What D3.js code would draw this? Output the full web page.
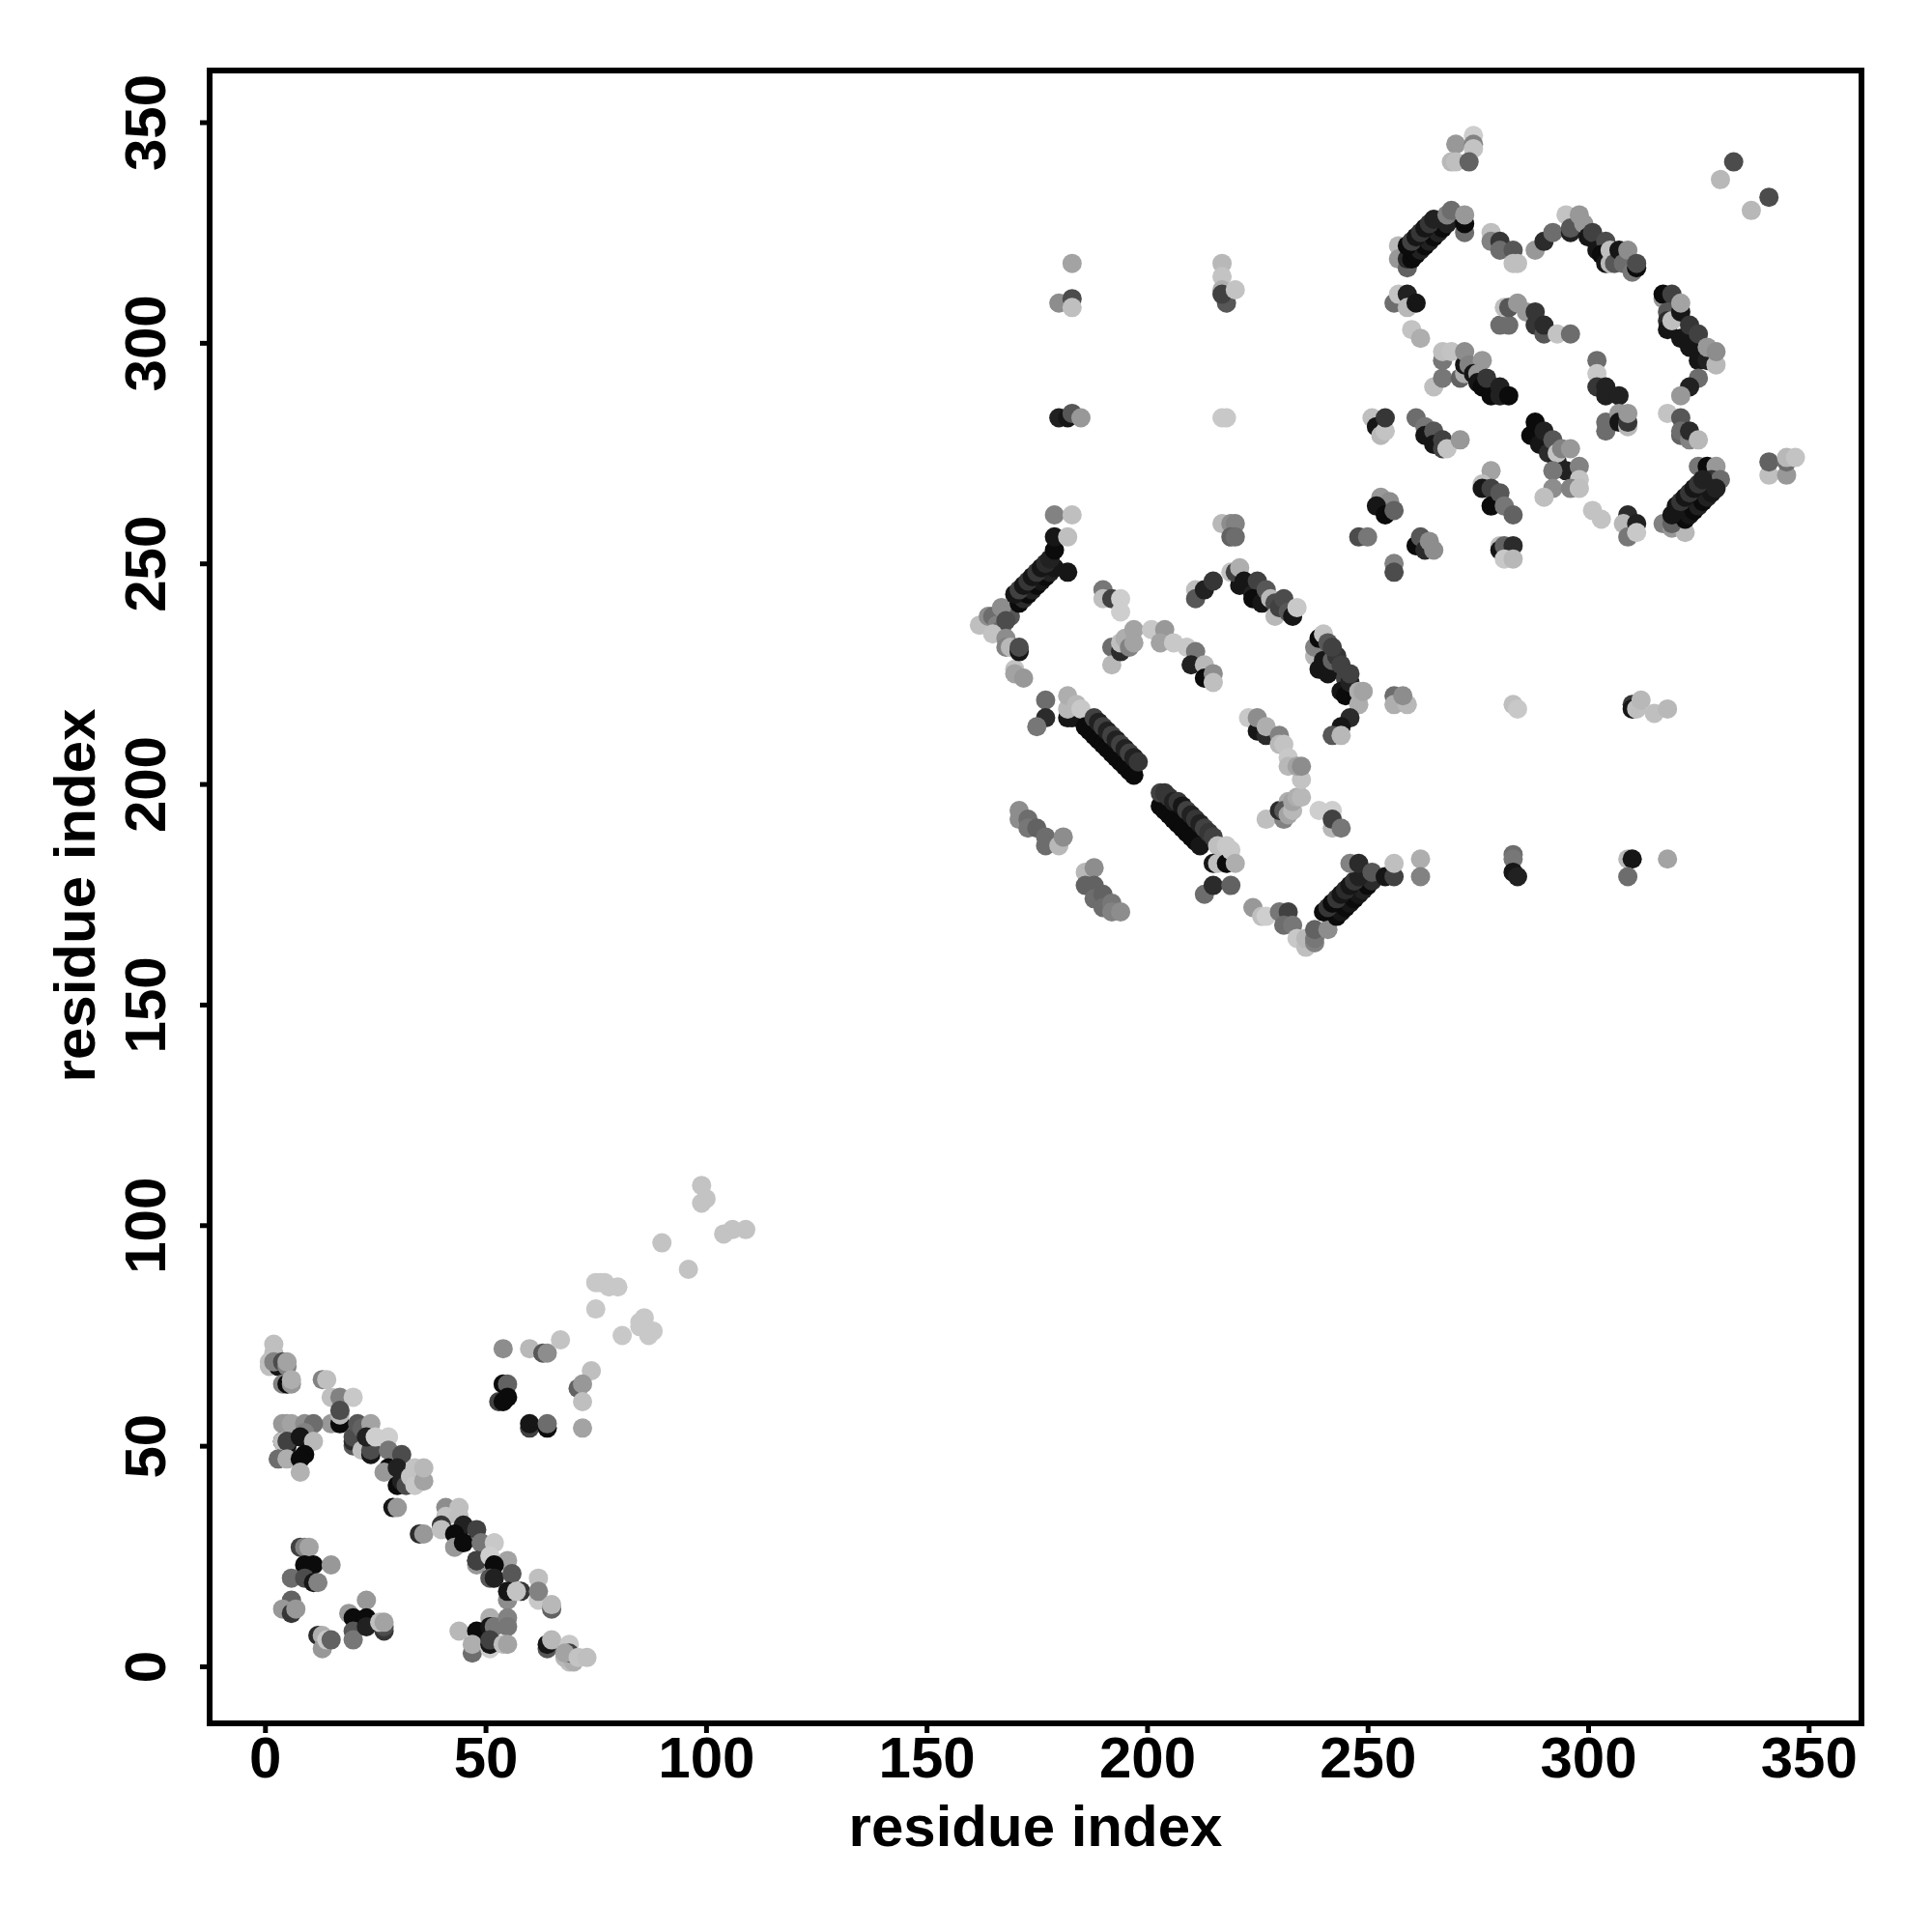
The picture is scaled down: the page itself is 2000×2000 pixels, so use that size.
<!DOCTYPE html>
<html><head><meta charset="utf-8"><script src="https://cdn.jsdelivr.net/npm/d3@7"></script>
<style>html,body{margin:0;background:#fff}svg{display:block}</style></head><body>
<svg id="c" width="2000" height="2000"></svg>
<script>
// each contact: [residue x, residue y, contact strength 0-100]
const domainA = [
[2,70,12],[1,69,12],[1,68,12],[2,73,12],[2,71,12],[3,68,90],[2,69,40],[4,69,65],[5,68,40],[5,69,25],[4,64,40],[5,64,95],[6,64,30],[6,65,20],
[13,65,40],[14,65,12],[15,61,12],[17,61,40],[20,61,8],[15,55,30],[17,55,95],[17,57,15],[17,58,65],[20,50,60],[20,51,80],[20,52,65],[21,55,60],[22,54,55],[24,55,25],
[22,49,12],[24,48,90],[24,49,65],[23,52,85],[25,52,5],[28,52,5],[28,49,45],[31,48,65],[28,45,95],[27,44,30],[30,45,85],[30,41,95],[31,42,85],[32,41,65],[33,43,10],[34,41,8],[34,45,10],[36,42,25],[36,45,15],
[29,36,90],[30,36,30],[35,30,80],[36,30,30],
[4,55,30],[5,55,30],[6,55,25],[9,55,35],[11,55,50],[4,51,95],[5,50,90],[4,51,12],[5,51,70],[9,53,40],[8,52,90],[11,51,15],[3,47,50],[5,47,20],[9,48,95],[8,47,95],[8,44,18],
[8,27,70],[9,27,40],[10,27,25],[9,23,95],[11,23,95],[15,23,30],[6,20,50],[9,20,65],[11,19,90],[12,19,40],[6,15,55],[4,13,30],[6,12,75],[7,13,30],
[12,7,80],[13,7,20],[13,4,30],[14,6,8],[15,6,55],[19,12,30],[20,11,95],[20,8,60],[20,6,45],[23,15,30],[23,11,95],[23,9,85],[27,8,75],[27,9,65],[26,10,12],[27,10,25],
[41,36,35],[44,36,12],[41,34,10],[40,32,75],[40,31,12],[44,34,12],[45,32,85],[48,31,70],[43,30,95],[43,27,30],[45,28,95],[49,28,45],[52,28,8],[48,23,30],[48,24,90],[48,24,70],[51,25,5],[55,24,25],[52,23,95],[51,20,60],[52,20,85],[56,21,60],[55,15,35],[55,17,90],[58,17,75],[57,17,10],[62,20,12],[62,15,8],[62,17,40],[65,13,55],[65,14,15],
[44,8,15],[48,8,95],[51,11,20],[51,9,90],[52,9,45],[55,11,40],[55,9,45],[47,3,50],[47,5,20],[51,4,5],[51,5,90],[51,6,70],[54,5,12],[55,5,25],
[64,4,60],[64,5,90],[65,6,15],[69,5,8],[69,1,12],[68,2,15],[70,1,20],[69,3,70],[68,3,25],[71,2,10],[73,2,12]
];
const domainAOff = [
[54,72,35],[60,72,15],[63,71,60],[64,71,35],[67,74,10],[54,64,95],[55,64,55],[53,60,70],[54,60,95],[55,61,95],[60,54,70],[60,55,90],[64,54,95],[64,55,50],[74,67,12],[71,63,55],[72,64,30],[72,60,12],[72,54,25]
];
const linker = [
[75,87,8],[76,87,8],[77,87,8],[78,86,8],[80,86,8],[75,81,8],[81,75,8],[86,79,8],[85,78,8],[85,77,8],[87,76,8],[88,76,8],[87,75,8],[90,96,10],[96,90,10],[99,109,10],[99,105,10],[100,106,10],[104,98,10],[106,99,10],[109,99,10]
];
const domainB = [
[162,236,12],[164,238,35],[165,238,50],[166,236,40],[167,235,50],[169,238,60],[167,240,35],[168,237,65],[165,234,10],[168,233,35],[170,226,10],[170,225,25],[172,224,30],[168,231,40],[169,231,15],[171,230,90],[171,231,65],
[171,241,95],[172,242,80],[173,243,95],[174,244,85],[175,245,95],[176,246,90],[177,247,95],[178,248,85],[179,249,90],
[170,243,90],[171,244,70],[172,245,90],[173,246,75],[174,247,90],[175,248,75],[176,249,90],[177,250,80],[178,251,85],
[179,253,95],[179,256,90],[179,261,40],[183,261,12],[182,256,12],[182,248,90],
[190,244,45],[190,242,12],[192,242,70],[194,242,5],[194,239,5],
[192,231,50],[192,227,15],[194,230,80],[194,232,12],[195,233,20],[196,231,40],[197,235,25],[197,232,25],
[201,235,8],[204,235,30],[203,232,25],[206,232,8],[209,231,8],[211,230,45],[210,227,85],[213,227,15],[213,224,95],[215,225,35],[215,223,12],
[177,219,50],[177,215,80],[175,213,45],[182,215,90],[183,215,90],[182,217,15],[182,220,20],[184,218,15],[185,217,8],
[186,213,95],[187,212,95],[188,211,95],[189,210,95],[190,209,95],[191,208,95],[192,207,95],[193,206,95],[194,205,95],[195,204,95],[196,203,95],[197,202,95],
[188,215,70],[189,214,85],[190,213,70],[191,212,85],[192,211,70],[193,210,85],[194,209,70],[195,208,85],[196,207,70],[197,206,85],[198,205,75],
[203,195,95],[204,194,95],[205,193,95],[206,192,95],[207,191,95],[208,190,95],[209,189,95],[210,188,95],[211,187,95],[212,186,90],
[203,198,70],[204,198,75],[205,197,75],[206,196,85],[207,196,75],[208,195,90],[209,194,70],[210,193,85],[211,192,75],[212,191,85],[213,190,70],[214,189,75],[215,188,70],
[216,186,12],[218,186,8],[215,182,90],[216,182,12],[218,182,95],[219,185,8],[220,182,20],[213,175,50],[215,177,80],[219,177,55],
[171,194,35],[171,192,35],[173,192,50],[173,190,45],[175,190,55],[177,188,50],[177,186,50],[180,186,15],[181,188,35],
[186,180,15],[188,181,35],[186,177,55],[188,177,55],[188,174,50],[190,175,55],[190,172,50],[192,173,45],[192,171,40],[194,171,35],
[211,244,12],[211,242,60],[213,244,85],[215,246,75],[219,248,10],[221,245,90],[220,248,70],[221,249,20],[222,246,90],[224,243,85],[225,246,70],[224,242,95],[226,241,90],[227,244,60],[228,242,15],[229,241,65],[229,238,15],[230,240,70],[231,242,65],[232,239,60],[233,238,90],[234,240,8],
[238,229,15],[238,231,40],[239,233,95],[240,234,10],[240,228,90],[239,226,90],[241,225,90],[242,228,55],[241,232,60],[243,229,75],[242,231,70],[244,227,70],[245,224,70],[244,221,90],[245,220,95],[246,223,85],[246,225,70],[248,218,20],[248,221,20],[249,221,25],[246,215,80],[244,213,90],[242,211,60],[244,211,15],
[256,220,50],[256,218,20],[259,218,15],[258,220,35],
[227,192,12],[231,192,40],[230,194,80],[232,196,20],[231,194,60],[232,193,25],[233,194,15],[233,196,25],[234,197,20],[235,197,15],
[223,215,8],[225,212,90],[225,215,35],[227,211,80],[227,213,20],[230,211,40],[230,209,15],[231,209,10],[232,206,8],[232,204,15],[235,201,10],[234,204,25],[235,204,35],
[239,194,5],[242,194,5],[242,190,15],[242,192,70],[244,190,45],
[224,172,30],[226,170,12],[227,170,5],[230,171,45],[232,171,70],[231,168,50],[233,168,45],[234,165,8],[236,163,12],[236,165,15],[238,164,40],[238,165,45],[238,167,55],[241,167,35],
[243,170,95],[244,171,90],[245,172,95],[246,173,90],[247,174,95],[248,175,90],[249,176,85],[250,177,95],[251,178,80],
[240,171,95],[241,172,75],[242,173,95],[243,174,75],[244,175,90],[245,176,80],[246,177,90],[247,178,75],[248,179,85],
[246,182,40],[248,182,80],[251,180,60],[254,179,90],[256,179,70],[256,182,12]
];
const interdomain = [
[262,183,20],[262,179,40],[283,184,50],[283,183,45],[283,180,90],[284,179,85],[309,183,15],[310,183,90],[309,179,50],[318,183,25],
[283,218,12],[284,217,8],[310,218,75],[310,217,90],[311,217,12],[312,219,15],[315,216,12],[318,217,15],
[180,309,35],[183,318,25],[183,310,65],[183,308,12],[180,283,85],[182,283,90],[183,284,60],[185,283,30],
[217,318,15],[217,315,10],[217,312,20],[218,309,60],[217,311,70],[220,312,10],[217,283,8],[218,283,8],
[217,259,15],[219,259,35],[220,259,40],[219,256,55],[220,256,50]
];
const domainC = [
[270,345,30],[274,347,5],[274,345,40],[274,344,10],[269,341,15],[270,341,12],[273,341,55],
[333,341,65],[330,337,15],[341,333,65],[337,330,15],
[257,322,15],[257,319,30],[259,317,55],[259,319,80],[260,319,95],[261,320,95],[262,321,85],[263,322,95],[264,323,85],[265,324,95],[266,325,85],[267,326,95],[268,327,85],
[259,322,95],[260,323,70],[261,324,90],[262,325,75],[263,326,90],[264,327,75],[265,328,85],[268,329,40],[269,330,50],[272,325,50],[272,327,95],[272,329,30],
[278,325,12],[278,323,40],[280,323,75],[280,321,50],[283,321,60],[283,318,12],[284,318,12],
[288,321,30],[290,323,80],[292,325,50],[295,329,10],[296,325,85],[296,326,60],[298,329,30],[299,327,30],[300,324,90],[301,325,70],[302,321,90],[304,323,65],[303,320,95],[304,318,90],[305,318,15],[305,321,12],[306,318,60],[307,321,90],[308,318,50],[309,321,35],[310,316,45],[311,317,95],[311,318,65],
[256,309,50],[257,311,10],[259,311,85],[259,308,15],[261,309,90],[260,303,10],[262,301,20],
[280,304,50],[282,304,50],[281,308,12],[282,308,60],[284,309,30],[286,307,30],[288,304,75],[288,307,75],[290,302,60],[290,304,80],[293,302,10],[296,302,50],
[302,296,50],[302,293,8],[302,290,75],[304,288,85],[304,290,85],[307,288,85],[304,280,50],[304,282,50],[307,284,30],[307,282,90],[309,281,15],[309,282,75],[309,284,30],
[318,284,10],[321,279,55],[321,283,60],[321,280,50],[323,278,40],[323,280,80],[325,278,15],
[317,310,30],[317,311,95],[319,311,70],[318,307,60],[318,305,80],[318,303,90],[319,305,12],[321,307,90],[321,301,90],[321,309,25],[323,299,90],[323,304,75],[325,296,90],[325,302,70],[327,296,85],[329,295,15],[327,299,30],[329,298,35],
[325,292,50],[323,290,85],[321,288,30],
[325,272,45],[327,272,95],[329,272,30],[328,269,75],[330,269,50],
[317,259,40],[319,258,30],[322,257,15],[319,259,55],
[322,260,95],[323,261,90],[324,262,95],[325,263,85],[326,264,95],[327,265,85],[328,266,90],[329,267,85],
[319,261,90],[320,263,90],[321,264,75],[322,265,90],[323,266,75],[324,267,90],[325,268,75],[326,269,85],
[341,270,12],[345,270,30],[341,273,55],[345,273,50],[345,274,15],[347,274,10],
[265,290,12],[267,292,45],[267,296,45],[267,298,12],[269,298,10],[271,292,55],[272,293,20],[272,295,90],[272,298,35],[273,295,40],[276,296,30],[274,293,90],[275,293,30],[275,291,90],[276,290,95],[278,288,95],[277,292,75],[280,290,85],[280,288,85],[282,288,95],
[287,279,95],[288,282,95],[289,277,90],[290,280,85],[291,275,80],[292,278,60],[293,273,85],[293,275,10],[295,271,85],[294,276,40],[296,276,30],[298,272,40],[298,269,10],[292,271,45],[292,267,35],[290,265,12],[296,267,40],[298,267,12],[301,262,10],[303,260,10],
[309,261,80],[308,259,15],[311,259,85],[309,256,45],[311,257,8],
[278,271,25],[276,268,12],[276,267,90],[278,267,70],[278,263,95],[280,266,60],[281,263,45],[283,261,55],
[251,283,12],[252,281,90],[253,279,15],[254,280,10],[254,283,75],
[261,283,50],[263,281,45],[263,279,90],[265,280,60],[265,277,90],[267,278,70],[267,276,70],[268,276,10],[271,278,30],
[253,265,30],[255,264,35],[252,263,90],[254,261,95],[256,262,55],[248,256,65],[250,256,45],
[261,254,95],[262,256,60],[263,253,80],[264,255,35],[265,253,35],
[256,250,40],[256,248,65],
[280,254,12],[280,253,90],[281,254,55],[283,254,80],[281,251,8],[283,251,15]
];

const xTicks = [0,50,100,150,200,250,300,350];
const yTicks = [0,50,100,150,200,250,300,350];
const axisTitle = "residue index";

const svg = d3.select("#c");
const frame = {left:217, right:1927, top:73, bottom:1784};
const x = d3.scaleLinear().domain([0,350]).range([274.3,1872.3]);
const y = d3.scaleLinear().domain([0,350]).range([1725,126.5]);
const shade = d3.scaleLinear().domain([0,100]).range(["#d9d9d9","#000000"]);
const font = "'Liberation Sans',Arial,sans-serif";

const contacts = [...domainA,...domainAOff,...linker,...domainB,...interdomain,...domainC];
svg.append("g").selectAll("circle").data(contacts).join("circle")
  .attr("cx",d=>x(d[0])).attr("cy",d=>y(d[1])).attr("r",10).attr("fill",d=>shade(d[2]));

svg.append("rect").attr("x",frame.left).attr("y",frame.top)
  .attr("width",frame.right-frame.left).attr("height",frame.bottom-frame.top)
  .attr("fill","none").attr("stroke","#000").attr("stroke-width",6);

const gx = svg.append("g").attr("transform",`translate(0,${frame.bottom})`)
  .call(d3.axisBottom(x).tickValues(xTicks).tickFormat(d3.format("d")).tickSize(10).tickPadding(10));
const gy = svg.append("g").attr("transform",`translate(${frame.left},0)`)
  .call(d3.axisLeft(y).tickValues(yTicks).tickFormat(d3.format("d")).tickSize(10).tickPadding(0));
[gx,gy].forEach(g=>{
  g.select(".domain").remove();
  g.selectAll(".tick line").attr("stroke","#000").attr("stroke-width",5);
  g.selectAll("text").attr("font-family",font).attr("font-weight","bold").attr("font-size",60).attr("fill","#000");
});
gx.selectAll("text").attr("y",null).attr("dy",null).attr("text-anchor","middle")
  .attr("transform",`translate(0,56)`);
gy.selectAll("text").attr("x",null).attr("dy",null).attr("text-anchor","middle")
  .attr("transform",`translate(-46,0) rotate(-90)`);

svg.append("text").text(axisTitle).attr("x",1072).attr("y",1911).attr("text-anchor","middle")
  .attr("font-family",font).attr("font-weight","bold").attr("font-size",60);
svg.append("text").text(axisTitle).attr("transform","translate(98,927) rotate(-90)").attr("text-anchor","middle")
  .attr("font-family",font).attr("font-weight","bold").attr("font-size",60);
</script></body></html>
